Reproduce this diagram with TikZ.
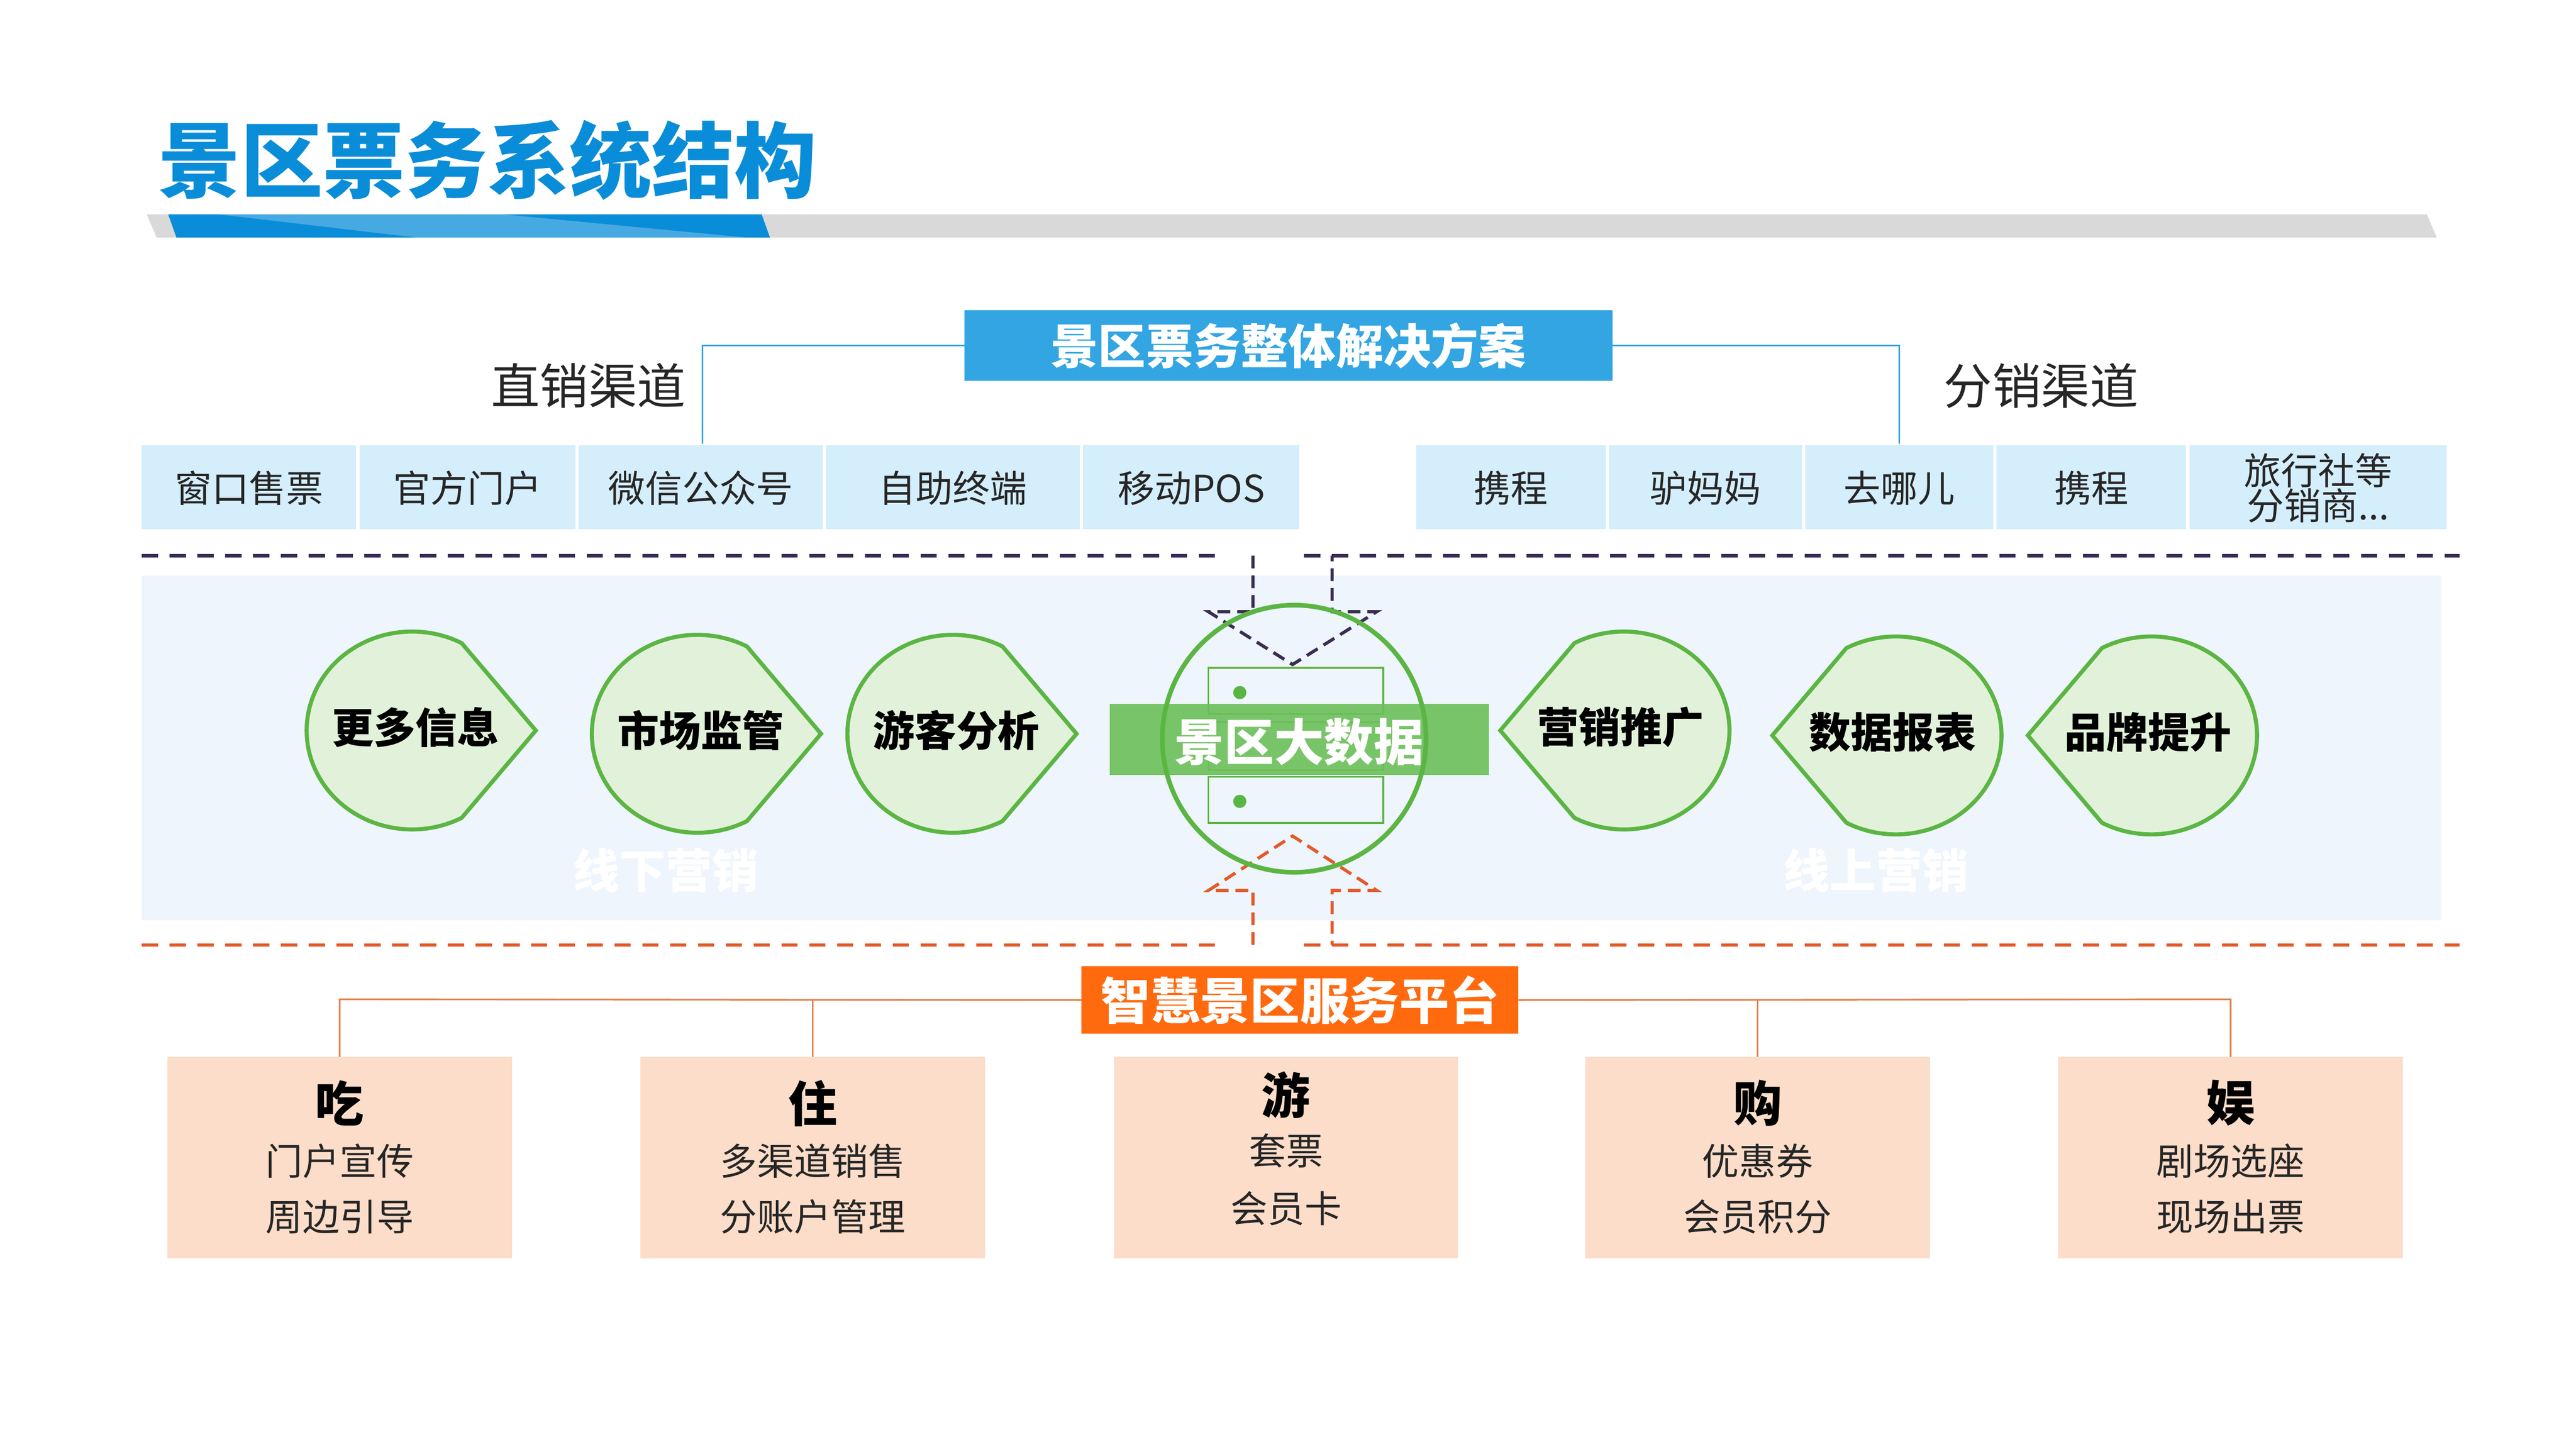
\documentclass[tikz,border=0pt]{standalone}
\usepackage{fontspec}
\usetikzlibrary{calc}
\setmainfont{Noto Sans CJK SC}
\newcommand{\fsz}[1]{\fontsize{#1}{#1}\selectfont}
\definecolor{tblue}{HTML}{0A8DD8}
\definecolor{bblue}{HTML}{32A5E2}
\definecolor{chan}{HTML}{D5EEFC}
\definecolor{gline}{HTML}{5BB543}
\definecolor{gfill}{HTML}{E2F2DA}
\definecolor{gband}{HTML}{6CBF58}
\definecolor{panel}{HTML}{EEF5FC}
\definecolor{dpur}{HTML}{3A2D52}
\definecolor{orng}{HTML}{E4592A}
\definecolor{obox}{HTML}{FF6A0E}
\definecolor{peach}{HTML}{FCDDC9}
\definecolor{oline}{HTML}{E2834F}
\begin{document}
\begin{tikzpicture}[x=1mm,y=-1mm,
  chanbox/.style={fill=chan,draw=none},
  chantext/.style={font=\fsz{64pt},text=black!85},
  droptext/.style={font=\fsz{72pt}\bfseries,text=black},
  drop/.style={draw=gline,fill=gfill,line width=7pt},
  bbox/.style={fill=peach,draw=none,minimum width=209mm,minimum height=122mm,inner sep=0},
  dashk/.style={dpur,line width=5.5pt,dash pattern=on 28pt off 20pt},
  dasho/.style={orng,line width=5.5pt,dash pattern=on 28pt off 20pt},
  arrk/.style={dpur,line width=5.5pt,dash pattern=on 22pt off 12pt},
  arro/.style={orng,line width=5.5pt,dash pattern=on 22pt off 12pt},
  conn/.style={line width=3pt},
  bigc/.style={font=\fsz{84pt}\bfseries,text=black},
  smallc/.style={font=\fsz{64pt},text=black!85},
  faint/.style={font=\fsz{80pt}\bfseries,text=white},
]
\fill[white] (0,0) rectangle (1562.5,878.75);
\useasboundingbox (0,0) rectangle (1562.5,878.75);
% title
\node[anchor=west,text=tblue,font=\fsz{142pt}\bfseries,inner sep=0] (title) at (96,97) {景区票务系统结构};
\fill[black!15] (89,130) -- (1472,130) -- (1478,144) -- (95,144) -- cycle;
\fill[tblue] (102,130) -- (462,130) -- (467,144) -- (107,144) -- cycle;
\fill[white,opacity=0.25] (133,130) -- (305,130) -- (452,144) -- (252,144) -- cycle;
% top box
\node[fill=bblue,text=white,font=\fsz{82pt}\bfseries,minimum width=393mm,minimum height=43mm,inner sep=0] (sol) at (781.5,209.5) {景区票务整体解决方案};
\node[font=\fsz{84pt},text=black!85] (zx) at (357,234) {直销渠道};
\node[font=\fsz{84pt},text=black!85] (fx) at (1238,234) {分销渠道};
\coordinate (zxd) at (426,269);
\coordinate (fxd) at (1152,269);
\draw[bblue,conn] (sol.west) -| (zxd);
\draw[bblue,conn] (sol.east) -| (fxd);
% channels
\foreach \a/\b/\t [count=\i] in {86/216/窗口售票,218/349/官方门户,351/499/微信公众号,501/655/自助终端,657/788/移动POS,859/974/携程,976/1093/驴妈妈,1095/1209/去哪儿,1211/1326/携程}{
  \fill[chanbox] (\a,270) rectangle (\b,321);
  \node[chantext] (c\i) at ({(\a+\b)/2},296) {\t};
}
\fill[chanbox] (1328,270) rectangle (1484,321);
\node[chantext,align=center,font=\fsz{64pt}\linespread{0.95}\selectfont] (c10) at (1406,296) {旅行社等\\分销商...};
% dashed lines and panel
\fill[panel] (86,349) rectangle (1481,558);
\draw[dashk] (86,337) -- (741,337);
\draw[dashk] (791,337) -- (1492,337);
\draw[dasho] (86,573) -- (741,573);
\draw[dasho] (791,573) -- (1492,573);
\node[faint] (off) at (404,528) {线下营销};
\node[faint] (on) at (1138,528) {线上营销};
% drops
\newcommand{\dropR}[4]{%
  \draw[drop] (#1+75,#2) -- ($(#1,#2)+(62:64 and 60)$) arc[start angle=62,end angle=298,x radius=64,y radius=60] -- cycle;
  \node[droptext] (#4) at (#1+2,#2-2) {#3};}
\newcommand{\dropL}[4]{%
  \draw[drop] (#1-75,#2) -- ($(#1,#2)+(118:64 and 60)$) arc[start angle=118,end angle=-118,x radius=64,y radius=60] -- cycle;
  \node[droptext] (#4) at (#1-2,#2-2) {#3};}
\dropR{250}{443}{更多信息}{d1}
\dropR{423}{445}{市场监管}{d2}
\dropR{578}{445}{游客分析}{d3}
\dropL{985}{443}{营销推广}{d4}
\dropL{1150}{446}{数据报表}{d5}
\dropL{1305}{446}{品牌提升}{d6}
% big data
\coordinate (kt1) at (760,337);
\coordinate (kt2) at (808,337);
\coordinate (ot1) at (760,573);
\coordinate (ot2) at (808,573);
\draw[arrk] (kt1) -- (760,371) -- (733,371) -- (784,403) -- (835,371) -- (808,371) -- (kt2);
\draw[arro] (ot1) -- (760,540) -- (733,540) -- (784,507) -- (835,540) -- (808,540) -- (ot2);
\draw[gline,line width=3pt] (733,405) rectangle (839,433);
\draw[gline,line width=3pt] (733,438) rectangle (839,467);
\draw[gline,line width=3pt] (733,471) rectangle (839,499);
\fill[gline] (752,420) circle (4);
\fill[gline] (752,486) circle (4);
\fill[gband,opacity=0.9] (673,427) rectangle (903,470);
\node[font=\fsz{86pt}\bfseries,text=white] (bd) at (788,450) {景区大数据};
\draw[gline,line width=8pt] (785,448) ellipse (80 and 81);
% platform
\node[fill=obox,text=white,font=\fsz{86pt}\bfseries,minimum width=265mm,minimum height=41mm,inner sep=0] (pf) at (788.5,606.5) {智慧景区服务平台};
\node[bbox] (b1) at (206,702) {};
\node[bbox] (b2) at (493,702) {};
\node[bbox] (b3) at (780,702) {};
\node[bbox] (b4) at (1066,702) {};
\node[bbox] (b5) at (1353,702) {};
\draw[oline,conn] (pf.west) -- (206,606) -- (b1.north);
\draw[oline,conn] (493,606) -- (b2.north);
\draw[oline,conn] (pf.east) -- (1353,606) -- (b5.north);
\draw[oline,conn] (1066,606) -- (b4.north);
\node[bigc] at (206,669) {吃};
\node[smallc] at (206,704) {门户宣传};
\node[smallc] at (206,738) {周边引导};
\node[bigc] at (493,669) {住};
\node[smallc] at (493,704) {多渠道销售};
\node[smallc] at (493,738) {分账户管理};
\node[bigc] at (780,664) {游};
\node[smallc] at (780,698) {套票};
\node[smallc] at (780,733) {会员卡};
\node[bigc] at (1066,669) {购};
\node[smallc] at (1066,704) {优惠券};
\node[smallc] at (1066,738) {会员积分};
\node[bigc] at (1353,669) {娱};
\node[smallc] at (1353,704) {剧场选座};
\node[smallc] at (1353,738) {现场出票};
\end{tikzpicture}
\end{document}
